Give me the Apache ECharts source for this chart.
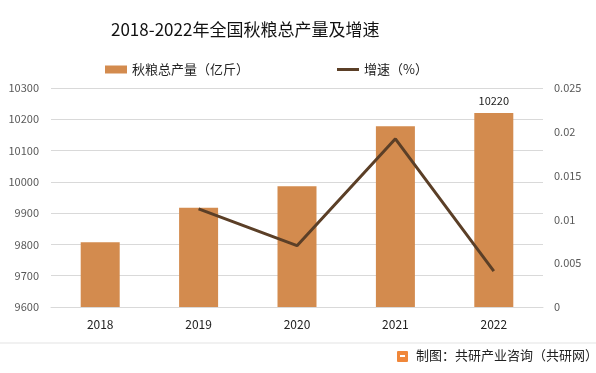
<!DOCTYPE html>
<html><head><meta charset="utf-8">
<script src="https://cdn.jsdelivr.net/npm/echarts@6/dist/echarts.min.js"></script>
<style>html,body{margin:0;padding:0;background:#fff}#c{width:596px;height:373px}</style>
</head><body><div id="c"></div>
<script>
const categories = ['2018','2019','2020','2021','2022'];
const production = [9807, 9917, 9986, 10178, 10220];
const growth = [null, 0.0112, 0.0070, 0.0192, 0.0041];
const leftTicks = [9600, 10300, 100];
const rightTicks = [0, 0.025, 0.005];
const FONT = '"Noto Sans CJK SC","Noto Sans",sans-serif';
const chart = echarts.init(document.getElementById('c'), null, {renderer:'canvas'});
const legText = {fontSize:13, color:'#222', fontFamily:FONT};
chart.setOption({
  animation:false,
  backgroundColor:'#fff',
  textStyle:{fontFamily:FONT},
  title:{text:'2018-2022年全国秋粮总产量及增速', left:106, top:16,
    textStyle:{fontSize:17, fontWeight:'normal', color:'#111', fontFamily:FONT}},
  legend:[
    {top:58, left:100, itemWidth:22, itemHeight:8, itemGap:4, textStyle:legText,
     data:[{name:'秋粮总产量（亿斤）', icon:'rect'}]},
    {top:58, left:332, itemWidth:22, itemHeight:3, itemGap:4, textStyle:legText,
     data:[{name:'增速（%）', icon:'rect', itemStyle:{color:'#5B3F27'}}]}
  ],
  grid:{left:51, right:53, top:88, bottom:66},
  xAxis:{type:'category', data:categories,
    axisLine:{lineStyle:{color:'#d9d9d9'}}, axisTick:{show:false},
    axisLabel:{color:'#222', fontSize:12, margin:11}},
  yAxis:[
    {type:'value', min:leftTicks[0], max:leftTicks[1], interval:leftTicks[2],
     axisLine:{show:false}, axisTick:{show:false},
     splitLine:{lineStyle:{color:'#d9d9d9', width:1}},
     axisLabel:{color:'#595959', fontSize:11, margin:12, formatter:v=>String(v)}},
    {type:'value', min:rightTicks[0], max:rightTicks[1], interval:rightTicks[2],
     axisLine:{show:false}, axisTick:{show:false}, splitLine:{show:false},
     axisLabel:{color:'#595959', fontSize:11, margin:11, formatter:v=>String(+v.toFixed(3))}}
  ],
  series:[
    {name:'秋粮总产量（亿斤）', type:'bar', data:production.map((v,i)=>i===4?{value:v,label:{show:true}}:v),
     barWidth:39, itemStyle:{color:'#D38B4E'},
     label:{show:false, position:'top', color:'#222', fontSize:11, distance:7}},
    {name:'增速（%）', type:'line', yAxisIndex:1, data:growth, symbol:'none',
     lineStyle:{color:'#5B3F27', width:3}, itemStyle:{color:'#5B3F27'}}
  ],
  graphic:[
    {type:'line', shape:{x1:0,y1:343,x2:596,y2:343}, style:{stroke:'#e3e3e3', lineWidth:1}},
    {type:'rect', shape:{x:397,y:351,width:11,height:11,r:1}, style:{fill:'#F0873A'}},
    {type:'rect', shape:{x:400,y:355,width:5,height:2}, style:{fill:'#fff'}},
    {type:'text', left:416, top:349, style:{text:'制图：共研产业咨询（共研网）', fill:'#222', font:'13px '+FONT}}
  ]
});
</script></body></html>
